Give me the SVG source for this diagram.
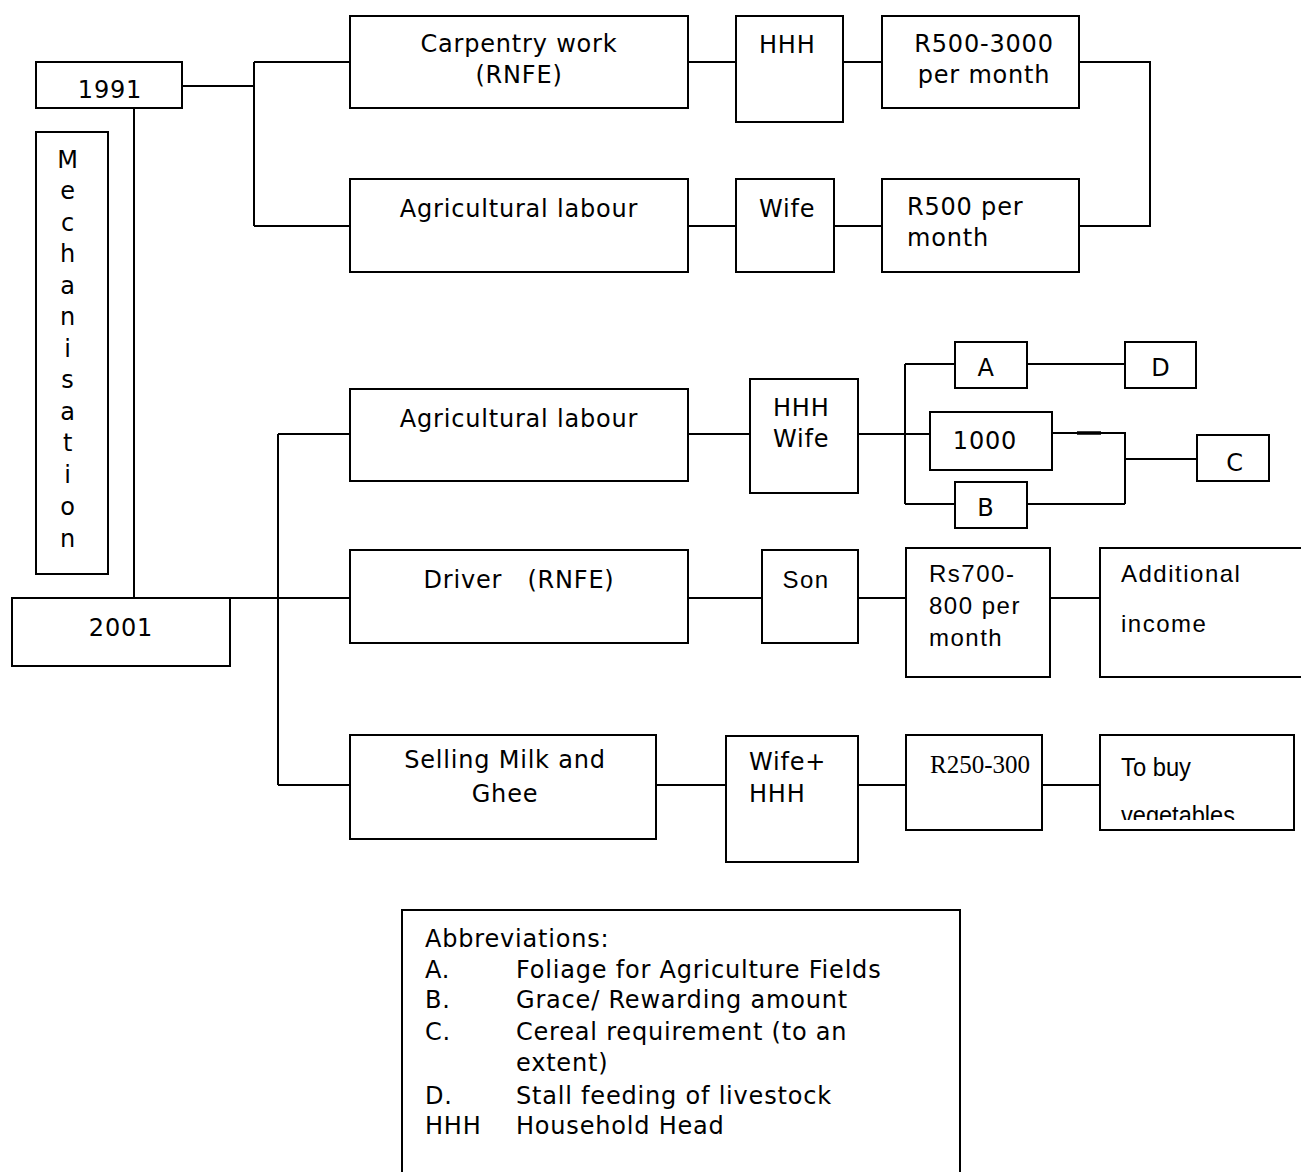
<svg xmlns="http://www.w3.org/2000/svg" width="1301" height="1172" viewBox="0 0 1301 1172">
<style>
.box{fill:#fff;stroke:#000;stroke-width:2}
.ln{stroke:#000;stroke-width:2;fill:none}
.t{font-family:"DejaVu Sans",Verdana,sans-serif;font-size:24px;letter-spacing:0.8px;fill:#000}
.c{text-anchor:middle}
.a{font-family:"Liberation Sans",Arial,sans-serif;font-size:24px;letter-spacing:1.5px;fill:#000}
.s{font-family:"Liberation Serif","Times New Roman",serif;font-size:25px;fill:#000}
.n{font-family:"Liberation Sans",Arial,sans-serif;font-size:26px;fill:#000}
</style>
<defs>
<clipPath id="vegclip"><rect x="1100" y="735" width="194" height="85"/></clipPath>
</defs>
<rect width="1301" height="1172" fill="#fff"/>

<g id="connectors">
<path class="ln" d="M182 86H254M254 62V226M254 62H350M254 226H350"/>
<path class="ln" d="M688 62H736M843 62H882M1079 62H1150V226H1079"/>
<path class="ln" d="M688 226H736M834 226H882"/>
<path class="ln" d="M134 108V598"/>
<path class="ln" d="M230 598H350M278 434V785M278 434H350M278 785H350"/>
<path class="ln" d="M688 434H750M858 434H930"/>
<path class="ln" d="M905 364V504M905 364H955M1027 364H1125M905 504H955M1027 504H1125"/>
<path class="ln" d="M1052 433H1125V504M1125 459H1197"/>
<path class="ln" d="M1077 433H1101" style="stroke-width:3.5"/>
<path class="ln" d="M688 598H762M858 598H906M1050 598H1100"/>
<path class="ln" d="M656 785H726M858 785H906M1042 785H1100"/>
</g>

<g id="n1991"><rect class="box" x="36" y="62" width="146" height="46"/><text class="t c" x="110" y="98">1991</text></g>
<g id="mech"><rect class="box" x="36" y="132" width="72" height="442"/>
<text class="t c" x="68" y="168">M</text><text class="t c" x="68" y="199">e</text><text class="t c" x="68" y="231">c</text><text class="t c" x="68" y="262">h</text><text class="t c" x="68" y="294">a</text><text class="t c" x="68" y="325">n</text><text class="t c" x="68" y="357">i</text><text class="t c" x="68" y="388">s</text><text class="t c" x="68" y="420">a</text><text class="t c" x="68" y="451">t</text><text class="t c" x="68" y="483">i</text><text class="t c" x="68" y="515">o</text><text class="t c" x="68" y="547">n</text></g>

<g id="carpentry"><rect class="box" x="350" y="16" width="338" height="92"/><text class="t c" x="519" y="52">Carpentry work</text><text class="t c" x="519" y="83">(RNFE)</text></g>
<g id="hhh1"><rect class="box" x="736" y="16" width="107" height="106"/><text class="t" x="759" y="53">HHH</text></g>
<g id="r5003000"><rect class="box" x="882" y="16" width="197" height="92"/><text class="t c" x="984" y="52">R500-3000</text><text class="t c" x="984" y="83">per month</text></g>

<g id="agri1"><rect class="box" x="350" y="179" width="338" height="93"/><text class="t c" x="519" y="217">Agricultural labour</text></g>
<g id="wife1"><rect class="box" x="736" y="179" width="98" height="93"/><text class="t" x="759" y="217">Wife</text></g>
<g id="r500"><rect class="box" x="882" y="179" width="197" height="93"/><text class="t" x="907" y="215">R500 per</text><text class="t" x="907" y="246">month</text></g>

<g id="n2001"><rect class="box" x="12" y="598" width="218" height="68"/><text class="t c" x="121" y="636">2001</text></g>

<g id="agri2"><rect class="box" x="350" y="389" width="338" height="92"/><text class="t c" x="519" y="427">Agricultural labour</text></g>
<g id="hhhwife"><rect class="box" x="750" y="379" width="108" height="114"/><text class="t" x="773" y="416">HHH</text><text class="t" x="773" y="447">Wife</text></g>
<g id="nA"><rect class="box" x="955" y="342" width="72" height="46"/><text class="t c" x="986" y="376">A</text></g>
<g id="nD"><rect class="box" x="1125" y="342" width="71" height="46"/><text class="t c" x="1161" y="376">D</text></g>
<g id="n1000"><rect class="box" x="930" y="412" width="122" height="58"/><text class="t c" x="985" y="449">1000</text></g>
<g id="nB"><rect class="box" x="955" y="482" width="72" height="46"/><text class="t c" x="986" y="516">B</text></g>
<g id="nC"><rect class="box" x="1197" y="435" width="72" height="46"/><text class="t c" x="1235" y="471">C</text></g>

<g id="driver"><rect class="box" x="350" y="550" width="338" height="93"/><text class="t c" x="519" y="588" xml:space="preserve">Driver   (RNFE)</text></g>
<g id="son"><rect class="box" x="762" y="550" width="96" height="93"/><text class="a c" x="806" y="588">Son</text></g>
<g id="rs700"><rect class="box" x="906" y="548" width="144" height="129"/><text class="a" x="929" y="582">Rs700-</text><text class="a" x="929" y="614">800 per</text><text class="a" x="929" y="646">month</text></g>
<g id="additional"><rect class="box" x="1100" y="548" width="215" height="129"/><text class="a" x="1121" y="582">Additional</text><text class="a" x="1121" y="632">income</text></g>

<g id="milk"><rect class="box" x="350" y="735" width="306" height="104"/><text class="t c" x="505" y="768">Selling Milk and</text><text class="t c" x="505" y="802">Ghee</text></g>
<g id="wifehhh"><rect class="box" x="726" y="736" width="132" height="126"/><text class="t" x="749" y="770">Wife+</text><text class="t" x="749" y="802">HHH</text></g>
<g id="r250"><rect class="box" x="906" y="735" width="136" height="95"/><text class="s" x="930" y="773" textLength="100" lengthAdjust="spacingAndGlyphs">R250-300</text></g>
<g id="tobuy"><rect class="box" x="1100" y="735" width="194" height="95"/><text class="n" x="1121" y="776" textLength="70" lengthAdjust="spacingAndGlyphs">To buy</text><text class="n" x="1121" y="824" textLength="114" lengthAdjust="spacingAndGlyphs" clip-path="url(#vegclip)">vegetables</text></g>

<g id="legend"><rect class="box" x="402" y="910" width="558" height="280"/>
<text class="t" x="425" y="947">Abbreviations:</text>
<text class="t" x="425" y="978">A.</text><text class="t" x="516" y="978">Foliage for Agriculture Fields</text>
<text class="t" x="425" y="1008">B.</text><text class="t" x="516" y="1008">Grace/ Rewarding amount</text>
<text class="t" x="425" y="1040">C.</text><text class="t" x="516" y="1040">Cereal requirement (to an</text>
<text class="t" x="516" y="1071">extent)</text>
<text class="t" x="425" y="1104">D.</text><text class="t" x="516" y="1104">Stall feeding of livestock</text>
<text class="t" x="425" y="1134">HHH</text><text class="t" x="516" y="1134">Household Head</text>
</g>
</svg>
